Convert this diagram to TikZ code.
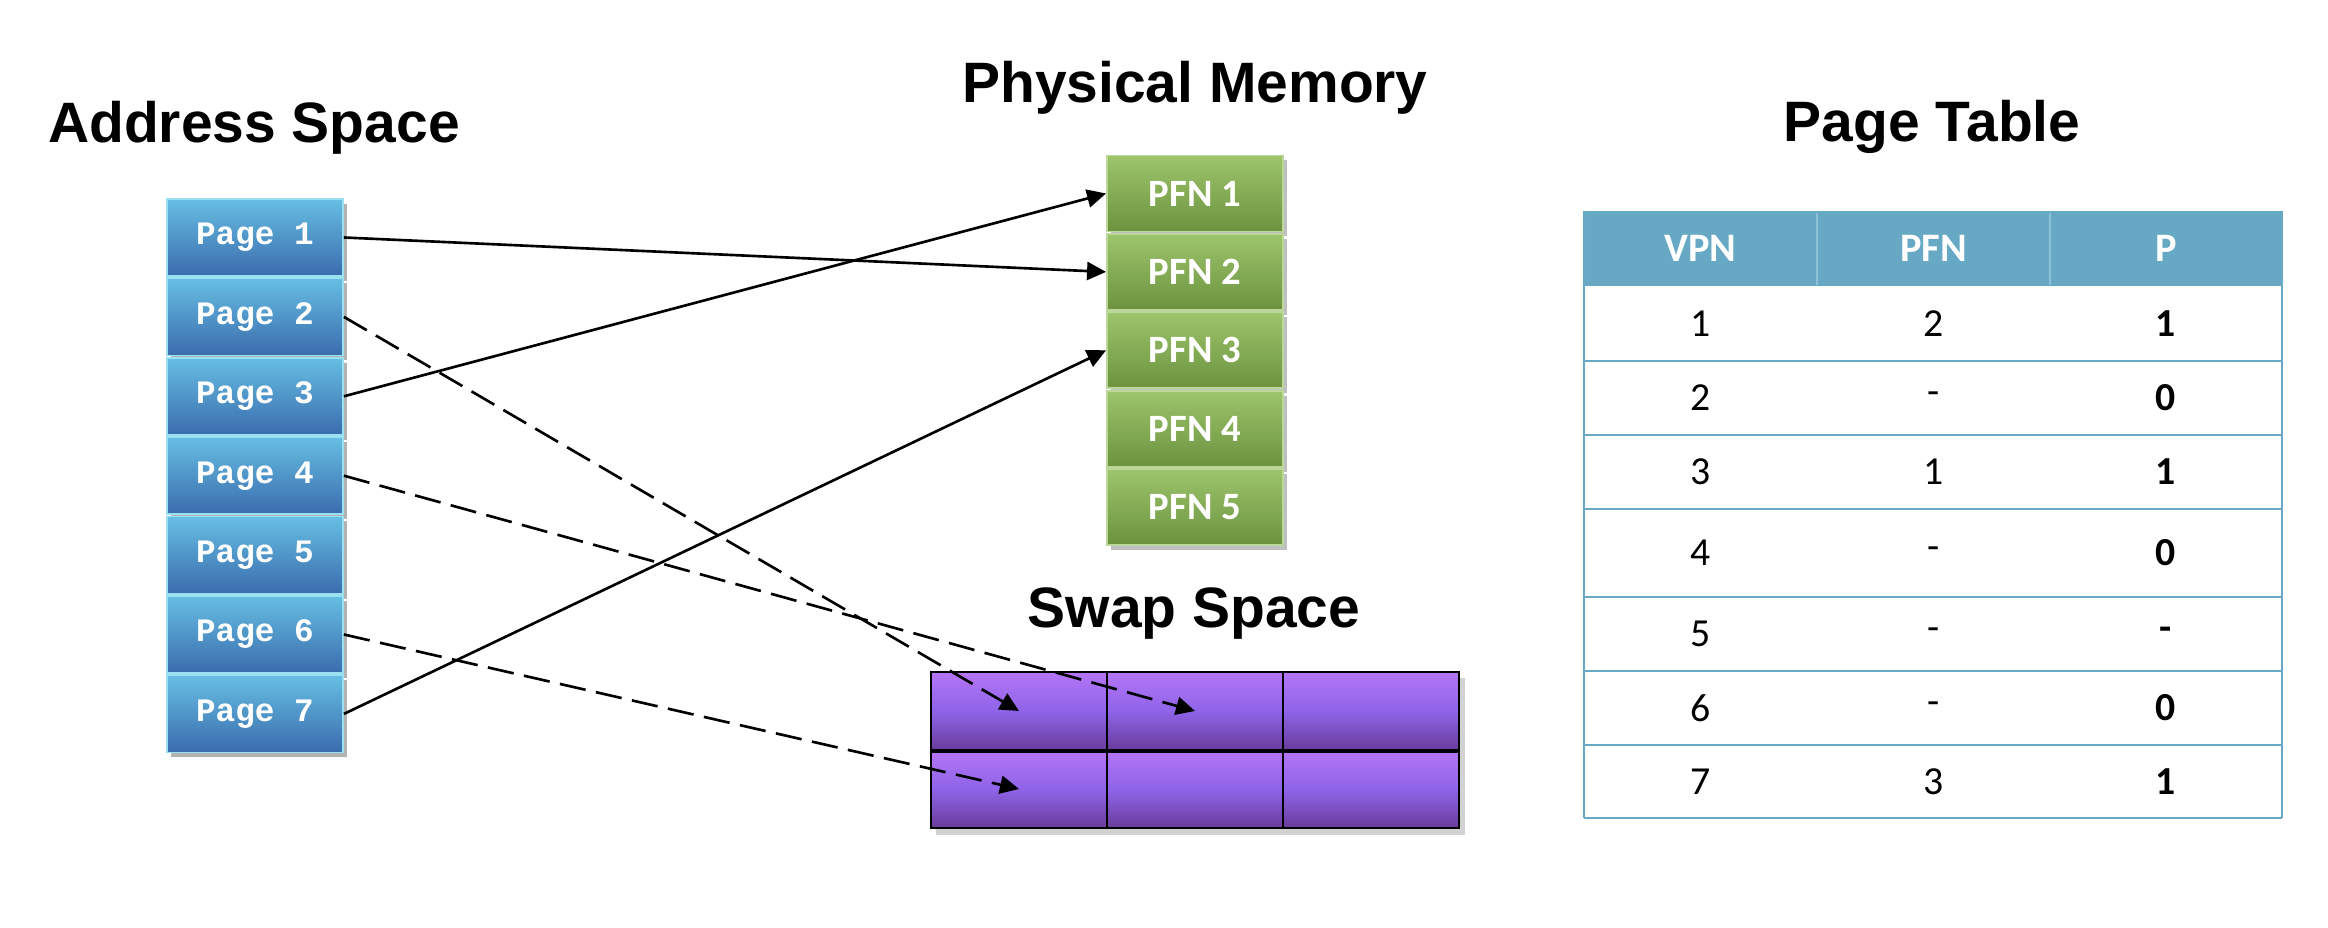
\documentclass[tikz,border=0pt]{standalone}
\usepackage{fontspec}
\setmainfont{Liberation Sans}
\newfontfamily\monof{Liberation Mono}
\newfontfamily\calf{Carlito}
\usetikzlibrary{arrows.meta,shadows}
\definecolor{pgtop}{HTML}{66BEE3}
\definecolor{pgbot}{HTML}{3A6CAD}
\definecolor{pgedge}{HTML}{9BE0F0}
\definecolor{gntop}{HTML}{9DC56C}
\definecolor{gnbot}{HTML}{6C923E}
\definecolor{gnedge}{HTML}{BBD89A}
\definecolor{putop}{HTML}{B575F7}
\definecolor{pumid}{HTML}{8E64E8}
\definecolor{pubot}{HTML}{693C9C}
\definecolor{hdrfill}{HTML}{67A9C5}
\definecolor{tline}{HTML}{6AA9C6}
\definecolor{hdiv}{HTML}{8DC1D7}
\begin{document}
\begin{tikzpicture}[x=0.01cm,y=-0.01cm,
  title/.style={font=\fontsize{16.2pt}{18pt}\selectfont\bfseries, anchor=base, inner sep=0pt},
  pagebox/.style={minimum width=1.76cm, minimum height=0.77cm, inner sep=0pt,
     top color=pgtop, bottom color=pgbot, draw=pgedge, line width=0.5pt,
     text=white, font=\monof\bfseries\fontsize{9.3pt}{10pt}\selectfont,
     drop shadow={shadow xshift=1.2pt, shadow yshift=-1.4pt, opacity=0.3, fill=black}},
  pfnbox/.style={minimum width=1.76cm, minimum height=0.76cm, inner sep=0pt,
     top color=gntop, bottom color=gnbot, draw=gnedge, line width=0.5pt,
     text=white, font=\calf\bfseries\fontsize{11pt}{12pt}\selectfont,
     drop shadow={shadow xshift=1.2pt, shadow yshift=-1.4pt, opacity=0.25, fill=black}},
  swapcell/.style={minimum width=1.76cm, minimum height=0.78cm, inner sep=0pt,
     top color=putop, bottom color=pubot, middle color=pumid, draw=black, line width=0.6pt},
  hdr/.style={text=white, font=\calf\bfseries\fontsize{11.5pt}{12pt}\selectfont, inner sep=0pt},
  cellr/.style={text=black, font=\calf\fontsize{11.3pt}{12pt}\selectfont, inner sep=0pt},
  cellb/.style={text=black, font=\calf\bfseries\fontsize{11.3pt}{12pt}\selectfont, inner sep=0pt},
  conn/.style={line width=0.75pt, -{Triangle[length=0.19cm, width=0.18cm]}},
  dconn/.style={conn, dash pattern=on 7.5pt off 3pt}
]
\useasboundingbox (0,0) rectangle (2328,928);

% titles
\node[title] (tAS) at (254,143) {Address Space};
\node[title] (tPM) at (1195,103) {Physical Memory};
\node[title] (tSS) at (1194,627) {Swap Space};
\node[title] (tPT) at (1932,142) {Page Table};

% address space pages
\foreach \i in {1,...,7}{
  \node[pagebox] (p\i) at (255,{237.5+(\i-1)*79.4}) {Page \i};
}

% physical memory frames
\foreach \i in {1,...,5}{
  \node[pfnbox] (f\i) at (1195,{193.5+(\i-1)*78.4}) {PFN \i};
}

% swap space
\fill[black!35, opacity=0.5] (936,678) rectangle (1465,835);
\node[swapcell] (s11) at (1019,711) {};
\node[swapcell] (s12) at (1195,711) {};
\node[swapcell] (s13) at (1371,711) {};
\node[swapcell] (s21) at (1019,789) {};
\node[swapcell] (s22) at (1195,789) {};
\node[swapcell] (s23) at (1371,789) {};
\draw[line width=1.2pt] (s11.south west) -- (s13.south east);

% page table
\fill[hdrfill] (1584,211) rectangle (2282,286);
\draw[hdiv, line width=0.4pt] (1817,213) -- (1817,285) (2050,213) -- (2050,285);
\draw[tline, line width=0.75pt] (1584,211) -- (1584,818) (2282,211) -- (2282,818);
\foreach \yy in {361,435,509,597,671,745,818}{
  \draw[tline, line width=0.75pt] (1584,\yy) -- (2282,\yy);
}
\node[hdr] (hV) at (1700.5,248.5) {VPN};
\node[hdr] (hF) at (1933.5,248.5) {PFN};
\node[hdr] (hP) at (2166,248.5) {P};

\node[cellr] (r1a) at (1700.5,323.5) {1}; \node[cellr] (r1b) at (1933.5,323.5) {2}; \node[cellb] (r1c) at (2166,323.5) {1};
\node[cellr] (r2a) at (1700.5,398) {2};   \node[cellr] (r2b) at (1933.5,398) {-};   \node[cellb] (r2c) at (2166,398) {0};
\node[cellr] (r3a) at (1700.5,472) {3};   \node[cellr] (r3b) at (1933.5,472) {1};   \node[cellb] (r3c) at (2166,472) {1};
\node[cellr] (r4a) at (1700.5,553) {4};   \node[cellr] (r4b) at (1933.5,553) {-};   \node[cellb] (r4c) at (2166,553) {0};
\node[cellr] (r5a) at (1700.5,634) {5};   \node[cellr] (r5b) at (1933.5,634) {-};   \node[cellb] (r5c) at (2166,634) {-};
\node[cellr] (r6a) at (1700.5,708) {6};   \node[cellr] (r6b) at (1933.5,708) {-};   \node[cellb] (r6c) at (2166,708) {0};
\node[cellr] (r7a) at (1700.5,781.5) {7}; \node[cellr] (r7b) at (1933.5,781.5) {3}; \node[cellb] (r7c) at (2166,781.5) {1};

% connectors
\draw[conn] (p1.east) -- (f2.west);
\draw[conn] (p3.east) -- (f1.west);
\draw[conn] (p7.east) -- (f3.west);
\draw[dconn] (p2.east) -- (s11.center);
\draw[dconn] (p4.east) -- (s12.center);
\draw[dconn] (p6.east) -- (s21.center);
\end{tikzpicture}
\end{document}
